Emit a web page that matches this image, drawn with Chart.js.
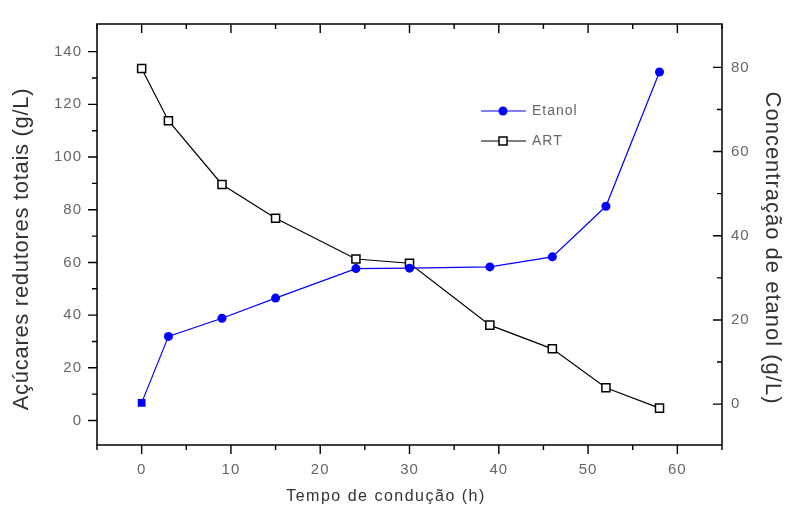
<!DOCTYPE html>
<html>
<head>
<meta charset="utf-8">
<script src="https://cdn.jsdelivr.net/npm/chart.js@4.4.1/dist/chart.umd.min.js"></script>
<style>
  html, body { margin: 0; padding: 0; background: #fff; }
  #wrap { width: 785px; height: 515px; }
</style>
</head>
<body>
<div id="wrap"><canvas id="grafico"></canvas></div>
<script>
// tempo de condução (h)
const tempo = [0, 3, 9, 15, 24, 30, 39, 46, 52, 58];
// açúcares redutores totais - ART (g/L), eixo esquerdo
const art = [133.6, 113.8, 89.6, 76.8, 61.3, 59.7, 36.2, 27.2, 12.4, 4.7];
// etanol (g/L), eixo direito
const etanol = [0.3, 16.1, 20.4, 25.2, 32.2, 32.3, 32.6, 35.0, 47.0, 78.9];

const ticksX = [0, 10, 20, 30, 40, 50, 60];
const ticksEsq = [0, 20, 40, 60, 80, 100, 120, 140];
const ticksDir = [0, 20, 40, 60, 80];

const fonte = 'Liberation Sans, Arial, sans-serif';

// primeiro ponto do etanol é quadrado, os outros são círculos
const estiloEtanol = tempo.map((t, i) => i === 0 ? 'rect' : 'circle');
const raioEtanol = tempo.map((t, i) => i === 0 ? 5.5 : 4.5);

// moldura, ticks menores, títulos e legenda no estilo Origin
const moldura = {
  id: 'moldura',
  beforeDraw(chart) {
    chart.ctx.letterSpacing = '1px';
  },
  afterDraw(chart) {
    const ctx = chart.ctx;
    const a = chart.chartArea;
    const sx = chart.scales.x, se = chart.scales.yEsq, sd = chart.scales.yDir;
    ctx.save();
    ctx.strokeStyle = '#000';
    ctx.lineWidth = 1.5;
    ctx.strokeRect(a.left, a.top, a.right - a.left, a.bottom - a.top);

    ctx.lineWidth = 1.4;
    ctx.beginPath();
    for (let v = -5; v <= 65; v += 5) {
      const px = sx.getPixelForValue(v);
      const len = v % 10 === 0 ? 9 : 5;
      ctx.moveTo(px, a.bottom); ctx.lineTo(px, a.bottom + len);
      ctx.moveTo(px, a.top); ctx.lineTo(px, a.top + len);
    }
    for (let v = 0; v <= 140; v += 10) {
      const py = se.getPixelForValue(v);
      const len = v % 20 === 0 ? 9 : 5;
      ctx.moveTo(a.left, py); ctx.lineTo(a.left - len, py);
    }
    for (let v = 0; v <= 80; v += 10) {
      const py = sd.getPixelForValue(v);
      const len = v % 20 === 0 ? 9 : 5;
      ctx.moveTo(a.right, py); ctx.lineTo(a.right - len, py);
    }
    ctx.stroke();

    ctx.fillStyle = '#333';
    ctx.textAlign = 'center';
    ctx.textBaseline = 'middle';

    // título do eixo x
    ctx.letterSpacing = '1.5px';
    ctx.font = '16px ' + fonte;
    ctx.fillText('Tempo de condução (h)', 386, 497);

    // títulos dos eixos y
    ctx.font = '22px ' + fonte;
    ctx.letterSpacing = '0.7px';
    ctx.save();
    ctx.translate(22, 249);
    ctx.rotate(-Math.PI / 2);
    ctx.fillText('Açúcares redutores totais (g/L)', 0, 0);
    ctx.restore();
    ctx.letterSpacing = '1px';
    ctx.save();
    ctx.translate(772, 248);
    ctx.rotate(Math.PI / 2);
    ctx.fillText('Concentração de etanol (g/L)', 0, 0);
    ctx.restore();

    // legenda
    ctx.font = '14px ' + fonte;
    ctx.textAlign = 'left';
    ctx.lineWidth = 1.2;
    ctx.strokeStyle = '#0000ff';
    ctx.beginPath(); ctx.moveTo(481, 111); ctx.lineTo(526, 111); ctx.stroke();
    ctx.fillStyle = '#0000ff';
    ctx.beginPath(); ctx.arc(503, 111, 4.5, 0, Math.PI * 2); ctx.fill();
    ctx.fillStyle = '#666';
    ctx.fillText('Etanol', 532, 111);

    ctx.strokeStyle = '#000';
    ctx.beginPath(); ctx.moveTo(481, 141); ctx.lineTo(526, 141); ctx.stroke();
    ctx.fillStyle = '#fff';
    ctx.fillRect(499, 137, 8, 8);
    ctx.lineWidth = 1.5;
    ctx.strokeRect(499, 137, 8, 8);
    ctx.fillStyle = '#666';
    ctx.fillText('ART', 532, 141);
    ctx.restore();
  }
};

new Chart(document.getElementById('grafico'), {
  type: 'line',
  data: {
    datasets: [{
      label: 'Etanol',
      data: tempo.map((t, i) => ({ x: t, y: etanol[i] })),
      yAxisID: 'yDir',
      borderColor: '#0000ff',
      backgroundColor: '#0000ff',
      borderWidth: 1.2,
      pointStyle: estiloEtanol,
      pointRadius: raioEtanol,
      pointBorderWidth: 0,
      tension: 0
    }, {
      label: 'ART',
      data: tempo.map((t, i) => ({ x: t, y: art[i] })),
      yAxisID: 'yEsq',
      borderColor: '#000',
      backgroundColor: '#fff',
      borderWidth: 1.2,
      pointStyle: 'rect',
      pointRadius: 5.7,
      pointBorderWidth: 1.5,
      pointBorderColor: '#000',
      pointBackgroundColor: '#fff',
      tension: 0
    }]
  },
  options: {
    responsive: true,
    maintainAspectRatio: false,
    animation: false,
    layout: { padding: { top: 15, left: 0, right: 0, bottom: 0 } },
    plugins: { legend: { display: false }, tooltip: { enabled: false } },
    scales: {
      x: {
        type: 'linear',
        min: -5, max: 65,
        afterBuildTicks: s => { s.ticks = ticksX.map(v => ({ value: v })); },
        afterFit: s => { s.height = 70; },
        grid: { display: false, drawTicks: false },
        border: { display: false },
        ticks: { padding: 16, color: '#666', font: { size: 15, family: fonte } }
      },
      yEsq: {
        position: 'left',
        min: -9.3, max: 150.5,
        afterBuildTicks: s => { s.ticks = ticksEsq.map(v => ({ value: v })); },
        afterFit: s => { s.width = 97; },
        grid: { display: false, drawTicks: false },
        border: { display: false },
        ticks: { padding: 15, color: '#666', font: { size: 15, family: fonte } }
      },
      yDir: {
        position: 'right',
        min: -9.7, max: 90.3,
        afterBuildTicks: s => { s.ticks = ticksDir.map(v => ({ value: v })); },
        afterFit: s => { s.width = 63; },
        grid: { display: false, drawTicks: false },
        border: { display: false },
        ticks: { padding: 9, color: '#666', font: { size: 15, family: fonte } }
      }
    }
  },
  plugins: [moldura]
});
</script>
</body>
</html>
